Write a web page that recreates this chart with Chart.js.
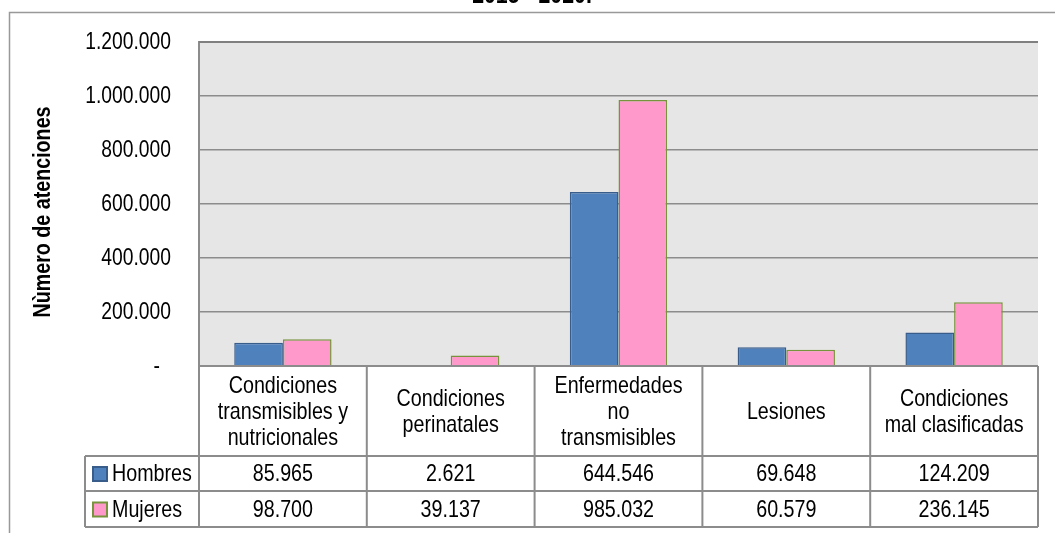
<!DOCTYPE html>
<html>
<head>
<meta charset="utf-8">
<script src="https://cdn.jsdelivr.net/npm/chart.js@4.4.1/dist/chart.umd.min.js"></script>
<style>
  html, body { margin: 0; padding: 0; background: #ffffff; }
  #chart { display: block; }
</style>
</head>
<body>
<canvas id="chart" width="1055" height="533"></canvas>
<script>
// Atenciones por gran causa y sexo
const categories = [
  ['Condiciones', 'transmisibles y', 'nutricionales'],
  ['Condiciones', 'perinatales'],
  ['Enfermedades', 'no', 'transmisibles'],
  ['Lesiones'],
  ['Condiciones', 'mal clasificadas']
];
const seriesNames = ['Hombres', 'Mujeres'];
const hombres = [85965, 2621, 644546, 69648, 124209];
const mujeres = [98700, 39137, 985032, 60579, 236145];
const yTicks = [0, 200000, 400000, 600000, 800000, 1000000, 1200000];
const titleText = '2015 - 2020.';
const axisTitle = 'Nùmero de atenciones';

const FONT = '"Liberation Sans", Arial, sans-serif';
const NARROW = 0.82;   // horizontal squeeze for a narrow-looking face
const LINE = '#8c8c8c';

function fmt(v) {
  return String(v).replace(/\B(?=(\d{3})+(?!\d))/g, '.');
}

// draws condensed text: the glyphs are squeezed along the writing direction
function narrowText(ctx, text, x, y, align, font, rot) {
  ctx.save();
  ctx.translate(x, y);
  if (rot) ctx.rotate(rot);
  ctx.scale(NARROW, 1);
  ctx.font = font;
  ctx.textAlign = align;
  ctx.fillText(text, 0, 0);
  ctx.restore();
}

// layout of the data table under the plot
const TABLE_H = 161;       // header + two series rows
const HEADER_H = 90;
const ROW_H = [35, 36];
const LEGEND_LEFT = 85;

const frameAndTable = {
  id: 'frameAndTable',
  beforeDraw(chart) {
    const {ctx, chartArea: a} = chart;
    ctx.save();
    // outer frame
    ctx.strokeStyle = '#999999';
    ctx.lineWidth = 1.5;
    ctx.beginPath();
    ctx.moveTo(9.5, chart.height);
    ctx.lineTo(9.5, 12.5);
    ctx.lineTo(chart.width, 12.5);
    ctx.stroke();
    // plot background
    ctx.fillStyle = '#e6e6e6';
    ctx.fillRect(a.left, a.top, a.right - a.left, a.bottom - a.top);
    // title (upper part falls outside the canvas)
    ctx.fillStyle = '#000';
    ctx.textBaseline = 'alphabetic';
    narrowText(ctx, titleText, 532, 3, 'center', 'bold 26px ' + FONT);
    ctx.restore();
  },
  afterDraw(chart) {
    const {ctx, chartArea: a} = chart;
    const x = chart.scales.x;
    const y = chart.scales.y;
    const n = categories.length;
    const colW = (a.right - a.left) / n;
    const top = a.bottom;
    const hdrBottom = top + HEADER_H;
    const r1 = hdrBottom + ROW_H[0];
    const r2 = r1 + ROW_H[1];
    const f = '24px ' + FONT;

    ctx.save();
    // darker plot top edge
    ctx.strokeStyle = '#808080';
    ctx.lineWidth = 2;
    ctx.beginPath();
    ctx.moveTo(a.left, a.top); ctx.lineTo(a.right, a.top);
    ctx.stroke();

    ctx.strokeStyle = LINE;
    ctx.beginPath();
    // axis line / table top
    ctx.moveTo(a.left, top); ctx.lineTo(a.right, top);
    // row lines
    [hdrBottom, r1, r2].forEach(yy => { ctx.moveTo(LEGEND_LEFT, yy); ctx.lineTo(a.right, yy); });
    // legend column left edge
    ctx.moveTo(LEGEND_LEFT, hdrBottom); ctx.lineTo(LEGEND_LEFT, r2);
    // plot left edge through the table
    ctx.moveTo(a.left, top); ctx.lineTo(a.left, r2);
    // column separators
    for (let i = 0; i < n; i++) {
      const xr = x.getPixelForValue(i) + colW / 2;
      ctx.moveTo(xr, top); ctx.lineTo(xr, r2);
    }
    ctx.stroke();

    ctx.fillStyle = '#000';
    ctx.textBaseline = 'middle';

    // y tick labels
    yTicks.forEach(v => {
      const label = v === 0 ? '-' : fmt(v);
      const xr = v === 0 ? 160 : 171;
      narrowText(ctx, label, xr, y.getPixelForValue(v) + 1, 'right', '23.5px ' + FONT);
    });

    // y axis title
    narrowText(ctx, axisTitle, 43, 212, 'center', 'bold 24px ' + FONT, -Math.PI / 2);

    // category header cells
    const lh = 26;
    categories.forEach((lines, i) => {
      const cx = x.getPixelForValue(i);
      const cy = top + HEADER_H / 2;
      const y0 = cy - (lines.length - 1) * lh / 2;
      lines.forEach((t, k) => narrowText(ctx, t, cx, y0 + k * lh + 1, 'center', f));
    });

    // value rows with legend keys
    const rowsY = [hdrBottom + ROW_H[0] / 2, r1 + ROW_H[1] / 2];
    chart.data.datasets.forEach((ds, di) => {
      const cy = rowsY[di] + 1;
      ds.data.forEach((v, i) => {
        ctx.fillStyle = '#000';
        narrowText(ctx, fmt(v), x.getPixelForValue(i), cy, 'center', f);
      });
      ctx.fillStyle = ds.backgroundColor;
      ctx.fillRect(93, cy - 7.5, 14, 14);
      ctx.strokeStyle = ds.borderColor;
      ctx.lineWidth = 2;
      ctx.strokeRect(93, cy - 7.5, 14, 14);
      ctx.fillStyle = '#000';
      narrowText(ctx, ds.label, 112, cy, 'left', f);
    });
    ctx.restore();
  }
};

new Chart(document.getElementById('chart'), {
  type: 'bar',
  data: {
    labels: categories.map(c => c.join(' ')),
    datasets: [
      { label: seriesNames[0], data: hombres, backgroundColor: '#4f81bd', borderColor: '#385d8a', borderWidth: 1.5 },
      { label: seriesNames[1], data: mujeres, backgroundColor: '#ff99cc', borderColor: '#77933c', borderWidth: 1.5 }
    ]
  },
  options: {
    responsive: false,
    animation: false,
    devicePixelRatio: 1,
    categoryPercentage: 0.58,
    barPercentage: 1.0,
    layout: { padding: { top: 42, right: 17, bottom: 6, left: 0 } },
    plugins: {
      legend: { display: false },
      tooltip: { enabled: false },
      title: { display: false }
    },
    scales: {
      x: {
        grid: { display: false },
        border: { display: false },
        ticks: { display: false },
        afterFit(s) { s.height = TABLE_H; }
      },
      y: {
        min: yTicks[0],
        max: yTicks[yTicks.length - 1],
        afterBuildTicks(s) { s.ticks = yTicks.map(v => ({ value: v })); },
        ticks: { display: false },
        grid: { color: LINE, lineWidth: 1.5, drawTicks: false },
        border: { display: true, color: LINE, width: 2 },
        afterFit(s) { s.width = 199; }
      }
    }
  },
  plugins: [frameAndTable]
});
</script>
</body>
</html>
